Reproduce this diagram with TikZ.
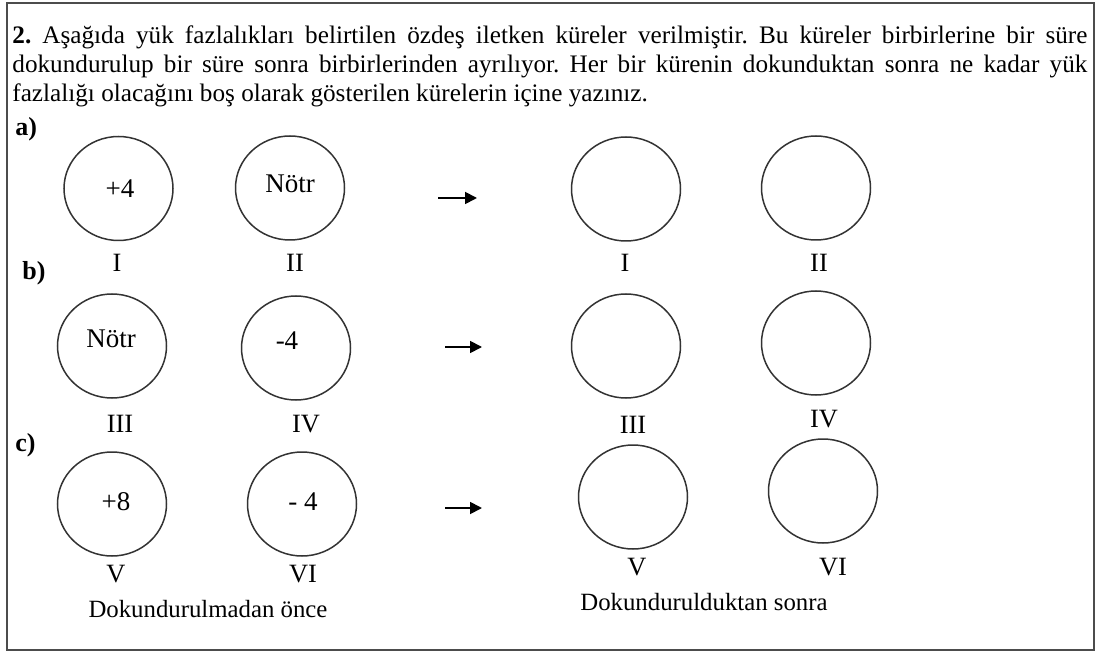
\documentclass[tikz,border=0pt]{standalone}
\usepackage{fontspec}
\setmainfont{Liberation Serif}
\usetikzlibrary{shapes.geometric,arrows.meta}
\frenchspacing
\begin{document}
\begin{tikzpicture}[x=0.5pt,y=-0.5pt,
  sphere/.style={draw=black!80, line width=0.75pt, ellipse, minimum width=54.5pt, minimum height=52pt, inner sep=0pt},
  charge/.style={anchor=base, font=\fontsize{13.5}{16}\selectfont, inner sep=0pt},
  numeral/.style={anchor=base, font=\fontsize{13.2}{16}\selectfont, inner sep=0pt},
  captiontext/.style={anchor=base, font=\fontsize{12.4}{15}\selectfont, inner sep=0pt},
  partlabel/.style={anchor=base west, font=\fontsize{13}{16}\selectfont\bfseries, inner sep=0pt},
  titleline/.style={anchor=base west, font=\fontsize{12.6}{15}\selectfont, inner sep=0pt},
  arr/.style={-{Triangle[length=6pt,width=6pt]}, line width=0.9pt}]
\useasboundingbox (0,0) rectangle (1103,652);
\draw[draw=black!70, line width=1pt] (7,3) rectangle (1094,650);
% title
\node[titleline] (t1) at (12,43.5) {\makebox[537.5pt][s]{\textbf{2.} Aşağıda yük fazlalıkları belirtilen özdeş iletken küreler verilmiştir. Bu küreler birbirlerine bir süre}};
\node[titleline] (t2) at (12,72.5) {\makebox[537.5pt][s]{dokundurulup bir süre sonra birbirlerinden ayrılıyor. Her bir kürenin dokunduktan sonra ne kadar yük}};
\node[titleline] (t3) at (12,101.5) {fazlalığı olacağını boş olarak gösterilen kürelerin içine yazınız.};
% part labels
\node[partlabel] (pa) at (15,136) {a)};
\node[partlabel] (pb) at (22,279) {b)};
\node[partlabel] (pc) at (15,451) {c)};
% row a
\node[sphere] (s1) at (118.5,188.5) {};
\node[sphere] (s2) at (290,188) {};
\node[sphere] (s3) at (626,189) {};
\node[sphere] (s4) at (816,188) {};
\node[charge] (q1) at (120,198) {+4};
\node[charge] (q2) at (290,193) {Nötr};
\node[numeral] (n1) at (117,272) {I};
\node[numeral] (n2) at (295,272) {II};
\node[numeral] (n3) at (625,272) {I};
\node[numeral] (n4) at (819,272) {II};
\coordinate (a1s) at (438,198);
\coordinate (a1e) at (477,198);
\draw[arr] (a1s) -- (a1e);
% row b
\node[sphere] (s5) at (112,346) {};
\node[sphere] (s6) at (296,348) {};
\node[sphere] (s7) at (626,346) {};
\node[sphere] (s8) at (816,343) {};
\node[charge] (q5) at (111,348) {Nötr};
\node[charge] (q6) at (287,350) {-4};
\node[numeral] (n5) at (120,432) {III};
\node[numeral] (n6) at (306,432) {IV};
\node[numeral] (n7) at (633,433) {III};
\node[numeral] (n8) at (824,427) {IV};
\coordinate (a2s) at (445,347);
\coordinate (a2e) at (482,347);
\draw[arr] (a2s) -- (a2e);
% row c
\node[sphere] (s9) at (112,504) {};
\node[sphere] (s10) at (302,504) {};
\node[sphere] (s11) at (633,497) {};
\node[sphere] (s12) at (823,491) {};
\node[charge] (q9) at (116,510) {+8};
\node[charge] (q10) at (303,510) {- 4};
\node[numeral] (n9) at (116,582) {V};
\node[numeral] (n10) at (303,582) {VI};
\node[numeral] (n11) at (637,575) {V};
\node[numeral] (n12) at (833,575) {VI};
\coordinate (a3s) at (445,508);
\coordinate (a3e) at (482,508);
\draw[arr] (a3s) -- (a3e);
% captions
\node[captiontext] (c1) at (208,617) {Dokundurulmadan önce};
\node[captiontext] (c2) at (704,610) {Dokundurulduktan sonra};
\end{tikzpicture}
\end{document}
